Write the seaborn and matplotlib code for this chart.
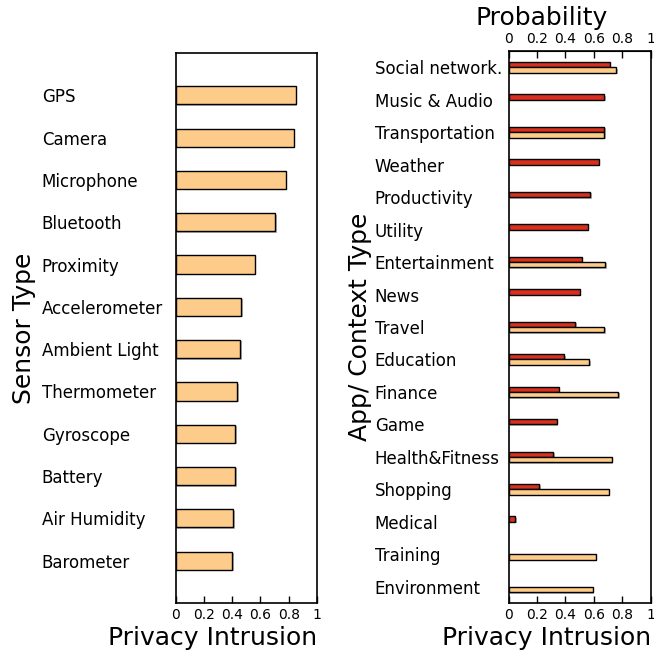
import numpy as np
import pandas as pd
import matplotlib.pyplot as plt
import matplotlib.patheffects as pe
import seaborn as sns

# Sensor panel data
sensors = ['GPS', 'Camera', 'Microphone', 'Bluetooth', 'Proximity', 'Accelerometer',
           'Ambient Light', 'Thermometer', 'Gyroscope', 'Battery', 'Air Humidity', 'Barometer']
sensor_intrusion = [0.85, 0.835, 0.78, 0.705, 0.56, 0.465, 0.458, 0.437, 0.422, 0.422, 0.407, 0.40]

# App / context panel data
apps = ['Social network.', 'Music & Audio', 'Transportation', 'Weather', 'Productivity',
        'Utility', 'Entertainment', 'News', 'Travel', 'Education', 'Finance', 'Game',
        'Health&Fitness', 'Shopping', 'Medical', 'Training', 'Environment']
app_probability = [0.711, 0.673, 0.673, 0.636, 0.575, 0.558, 0.514, 0.50, 0.469, 0.392,
                   0.354, 0.338, 0.314, 0.216, 0.047, np.nan, np.nan]
app_intrusion = [0.758, np.nan, 0.673, np.nan, np.nan, np.nan, 0.68, np.nan, 0.673, 0.568,
                 0.772, np.nan, 0.727, 0.704, np.nan, 0.613, 0.592]

red = '#d7301f'
orange = '#fdcc8a'
ticks = [0, 0.2, 0.4, 0.6, 0.8, 1]
tick_labels = ['0', '0.2', '0.4', '0.6', '0.8', '1']

df_sensor = pd.DataFrame({'sensor': sensors, 'intrusion': sensor_intrusion})
df_app = pd.concat([
    pd.DataFrame({'app': apps, 'measure': 'Probability', 'value': app_probability}),
    pd.DataFrame({'app': apps, 'measure': 'Privacy Intrusion', 'value': app_intrusion}),
]).dropna()

fig = plt.figure(figsize=(6.54, 6.56), dpi=100)
ax1 = fig.add_axes([175.7 / 654, 53 / 656, 141.3 / 654, 550 / 656])
ax2 = fig.add_axes([508.7 / 654, 53 / 656, 142 / 654, 552 / 656])

# Left: sensors
sns.barplot(data=df_sensor, x='intrusion', y='sensor', order=sensors, color=orange,
            saturation=1, width=0.43, edgecolor='black', linewidth=1, ax=ax1)
ax1.set_ylim(12, -1)

# Right: apps
sns.barplot(data=df_app, x='value', y='app', hue='measure', order=apps,
            hue_order=['Probability', 'Privacy Intrusion'], palette=[red, orange],
            saturation=1, width=0.33, edgecolor='black', linewidth=1, legend=False, ax=ax2)
ax2.set_ylim(16.5, -0.5)

for ax in (ax1, ax2):
    for p in ax.patches:
        p.set_path_effects([pe.withSimplePatchShadow(offset=(1, -1), shadow_rgbFace='gray', alpha=0.6)])
    ax.set_xlim(0, 1)
    ax.set_xticks(ticks)
    ax.set_xticklabels(tick_labels)
    ax.tick_params(axis='x', direction='in', length=5, labelsize=10, width=1)
    ax.tick_params(axis='y', length=0, pad=96.5, labelsize=12)
    for lab in ax.get_yticklabels():
        lab.set_horizontalalignment('left')
    for s in ax.spines.values():
        s.set_visible(True)
        s.set_linewidth(1.2)
    ax.set_xlabel('Privacy Intrusion', fontsize=18, loc='right')
    ax.xaxis.set_label_coords(1.0, -0.042)

ax1.set_ylabel('Sensor Type', fontsize=18)
ax1.yaxis.set_label_coords(-0.99, 0.5)
ax2.set_ylabel('App/ Context Type', fontsize=18)
ax2.yaxis.set_label_coords(-0.96, 0.5)

# top axis for probability
sec = ax2.secondary_xaxis('top')
sec.set_xticks(ticks)
sec.set_xticklabels(tick_labels)
sec.tick_params(direction='in', length=5, labelsize=10, width=1)
sec.set_xlabel('Probability', fontsize=18)
sec.xaxis.set_label_coords(0.235, 1.047, transform=ax2.transAxes)

fig.savefig('out.png', dpi=100)
